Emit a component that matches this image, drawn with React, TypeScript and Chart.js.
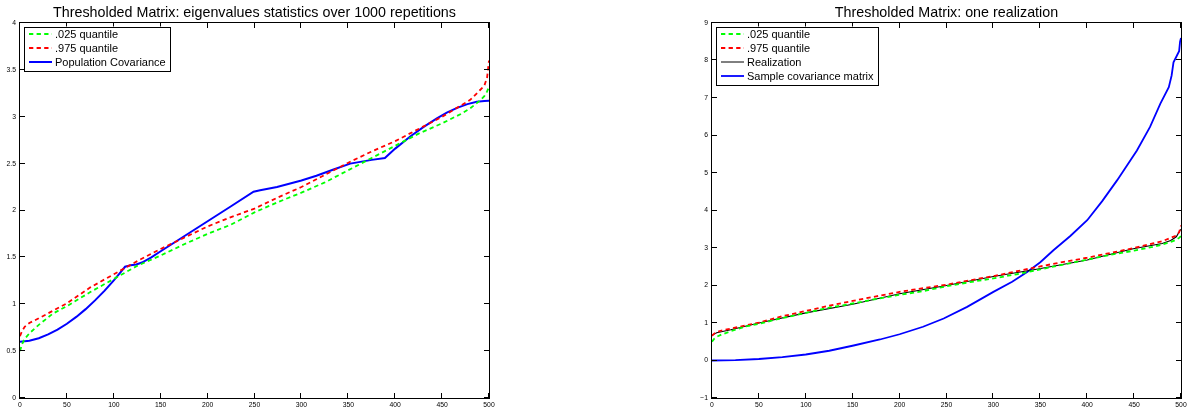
import React, { useEffect, useRef } from 'react';
import { Chart, registerables } from 'chart.js';
Chart.register(...registerables);

// ---------- data ----------
const qX = [0, 2, 5, 10, 20, 35, 50, 75, 100, 125, 150, 175, 200, 225, 250, 275, 300, 325, 350, 375, 400, 425, 450, 470, 480, 490, 495, 498, 500];
const q025 = [0.5, 0.57, 0.63, 0.69, 0.78, 0.9, 0.98, 1.13, 1.27, 1.41, 1.52, 1.64, 1.75, 1.85, 1.98, 2.09, 2.19, 2.3, 2.43, 2.56, 2.69, 2.82, 2.93, 3.03, 3.09, 3.17, 3.22, 3.27, 3.32];
const q975 = [0.66, 0.71, 0.76, 0.8, 0.85, 0.93, 1.01, 1.18, 1.32, 1.46, 1.59, 1.71, 1.83, 1.93, 2.02, 2.14, 2.25, 2.38, 2.51, 2.63, 2.74, 2.87, 3.0, 3.12, 3.18, 3.28, 3.33, 3.42, 3.6];

const popX = [0, 10, 20, 30, 40, 50, 60, 70, 80, 90, 100, 106, 112, 118, 124, 130, 140, 150, 175, 200, 225, 249, 256, 274, 300, 316, 335, 352, 375, 389, 400, 416, 430, 444, 455, 466, 477, 487, 495, 500];
const popY = [0.6, 0.611, 0.638, 0.678, 0.729, 0.792, 0.865, 0.948, 1.041, 1.143, 1.255, 1.326, 1.4, 1.415, 1.425, 1.445, 1.5, 1.565, 1.725, 1.885, 2.045, 2.2, 2.215, 2.25, 2.32, 2.37, 2.44, 2.5, 2.54, 2.56, 2.66, 2.79, 2.89, 2.98, 3.045, 3.095, 3.135, 3.16, 3.168, 3.17];

const realX = [0, 5, 20, 50, 100, 150, 200, 250, 300, 343, 400, 449, 480, 489, 495, 499, 500];
const realY = [0.67, 0.74, 0.82, 1.0, 1.27, 1.5, 1.78, 2.0, 2.24, 2.42, 2.68, 2.98, 3.12, 3.2, 3.3, 3.47, 3.5];

const sampX = [0, 25, 50, 75, 100, 125, 151, 179, 200, 225, 247, 272, 300, 320, 336, 350, 364, 382, 400, 416, 432, 453, 467, 478, 487, 490, 492, 495, 497, 498, 499, 500];
const sampY = [0.0, 0.01, 0.04, 0.09, 0.16, 0.26, 0.4, 0.56, 0.7, 0.9, 1.12, 1.43, 1.83, 2.1, 2.36, 2.62, 2.94, 3.32, 3.74, 4.25, 4.81, 5.6, 6.23, 6.85, 7.29, 7.6, 7.95, 8.1, 8.2, 8.25, 8.5, 8.6];

const xTicks = [0, 50, 100, 150, 200, 250, 300, 350, 400, 450, 500];
const leftYTicks = [0, 0.5, 1, 1.5, 2, 2.5, 3, 3.5, 4];
const rightYTicks = [-1, 0, 1, 2, 3, 4, 5, 6, 7, 8, 9];

const leftTitle = 'Thresholded Matrix: eigenvalues statistics over 1000 repetitions';
const rightTitle = 'Thresholded Matrix: one realization';

const FONT = '"Liberation Sans", Arial, Helvetica, sans-serif';
const GREEN = '#00ff00';
const RED = '#ff0000';
const BLUE = '#0000ff';
const DASH = [4.3, 3.3];

const zip = (xs: number[], ys: number[]) => xs.map((x, i) => ({ x, y: ys[i] }));

const framePlugin = {
  id: 'frame',
  afterDraw(chart: any) {
    const o = chart.options.plugins.frame;
    const { ctx, chartArea: a } = chart;
    const xs = chart.scales.x;
    const ys = chart.scales.y;
    ctx.save();
    ctx.strokeStyle = '#000';
    ctx.lineWidth = 1;
    ctx.setLineDash([]);
    ctx.strokeRect(a.left - 0.5, a.top - 0.5, a.right - a.left + 1, a.bottom - a.top + 1);
    const TL = 5;
    ctx.beginPath();
    for (const t of xs.ticks) {
      const p = Math.round(xs.getPixelForValue(t.value)) - 0.5;
      ctx.moveTo(p, a.bottom);
      ctx.lineTo(p, a.bottom - TL);
      ctx.moveTo(p, a.top);
      ctx.lineTo(p, a.top + TL);
    }
    for (const t of ys.ticks) {
      const p = Math.round(ys.getPixelForValue(t.value)) - 0.5;
      ctx.moveTo(a.left, p);
      ctx.lineTo(a.left + TL, p);
      ctx.moveTo(a.right, p);
      ctx.lineTo(a.right - TL, p);
    }
    ctx.stroke();
    // title
    ctx.fillStyle = '#000';
    ctx.font = `14.3px ${FONT}`;
    ctx.textAlign = 'center';
    ctx.textBaseline = 'alphabetic';
    ctx.fillText(o.title, (a.left + a.right) / 2, 16.5);
    // legend
    ctx.font = `11px ${FONT}`;
    const items = o.legend as any[];
    let maxW = 0;
    for (const it of items) maxW = Math.max(maxW, ctx.measureText(it.label).width);
    const L = a.left + 4;
    const T = a.top + 3.5;
    const W = 31 + maxW + 4;
    const H = 14 * items.length + 1.5;
    ctx.fillStyle = '#fff';
    ctx.fillRect(L, T, W, H);
    ctx.strokeStyle = '#000';
    ctx.lineWidth = 1;
    ctx.strokeRect(Math.round(L) + 0.5, Math.round(T) + 0.5, Math.round(W), Math.round(H));
    items.forEach((it, i) => {
      const cy = T + 7.5 + 14 * i;
      ctx.beginPath();
      ctx.strokeStyle = it.color;
      ctx.lineWidth = it.width;
      ctx.setLineDash(it.dash || []);
      ctx.moveTo(L + 5, cy);
      ctx.lineTo(L + 28, cy);
      ctx.stroke();
      ctx.setLineDash([]);
      ctx.fillStyle = '#000';
      ctx.textAlign = 'left';
      ctx.textBaseline = 'middle';
      ctx.fillText(it.label, L + 31, cy + 0.5);
    });
    ctx.restore();
  },
};

function makeConfig(
  datasets: any[],
  yTicks: number[],
  title: string,
  legend: any[],
  padLeft: number,
  padRight: number,
) {
  return {
    type: 'line',
    data: { datasets },
    options: {
      animation: false,
      responsive: false,
      maintainAspectRatio: false,
      events: [],
      layout: { padding: { left: padLeft, right: padRight, top: 23, bottom: 0 } },
      elements: { point: { radius: 0 }, line: { tension: 0 } },
      plugins: {
        legend: { display: false },
        title: { display: false },
        tooltip: { enabled: false },
        frame: { title, legend },
      },
      scales: {
        x: {
          type: 'linear',
          min: 0,
          max: 500,
          grid: { display: false, drawTicks: false },
          border: { display: false },
          afterBuildTicks: (s: any) => {
            s.ticks = xTicks.map((v) => ({ value: v }));
          },
          ticks: {
            autoSkip: false,
            maxRotation: 0,
            padding: 3,
            color: '#000',
            font: { family: FONT, size: 6.8 },
            callback: (v: any) => String(v),
          },
          afterFit: (s: any) => {
            s.height = 10;
            s.paddingLeft = 0;
            s.paddingRight = 0;
          },
        },
        y: {
          type: 'linear',
          min: yTicks[0],
          max: yTicks[yTicks.length - 1],
          grid: { display: false, drawTicks: false },
          border: { display: false },
          afterBuildTicks: (s: any) => {
            s.ticks = yTicks.map((v) => ({ value: v }));
          },
          ticks: {
            autoSkip: false,
            padding: 4,
            color: '#000',
            font: { family: FONT, size: 6.8 },
            callback: (v: any) => String(v).replace('-', '\u2212'),
          },
          afterFit: (s: any) => {
            s.width = 20;
            s.paddingTop = 0;
            s.paddingBottom = 0;
          },
        },
      },
    },
    plugins: [framePlugin],
  } as any;
}

function ChartCanvas({ config, left, width }: { config: () => any; left: number; width: number }) {
  const ref = useRef<HTMLCanvasElement | null>(null);
  useEffect(() => {
    if (!ref.current) return;
    const chart = new Chart(ref.current, config());
    return () => chart.destroy();
  }, []);
  return (
    <canvas
      ref={ref}
      width={width}
      height={408}
      style={{ position: 'absolute', left, top: 0, width, height: 408, display: 'block' }}
    />
  );
}

export default function App() {
  const leftConfig = () =>
    makeConfig(
      [
        { data: zip(qX, q025), borderColor: GREEN, borderWidth: 1.8, borderDash: DASH, fill: false },
        { data: zip(qX, q975), borderColor: RED, borderWidth: 1.8, borderDash: DASH, fill: false },
        { data: zip(popX, popY), borderColor: BLUE, borderWidth: 2, fill: false },
      ],
      leftYTicks,
      leftTitle,
      [
        { label: '.025 quantile', color: GREEN, width: 1.8, dash: DASH },
        { label: '.975 quantile', color: RED, width: 1.8, dash: DASH },
        { label: 'Population Covariance', color: BLUE, width: 2 },
      ],
      0,
      104,
    );
  const rightConfig = () =>
    makeConfig(
      [
        { data: zip(qX, q025), borderColor: GREEN, borderWidth: 1.8, borderDash: DASH, fill: false },
        { data: zip(qX, q975), borderColor: RED, borderWidth: 1.8, borderDash: DASH, fill: false },
        { data: zip(realX, realY), borderColor: '#000', borderWidth: 1.1, fill: false },
        { data: zip(sampX, sampY), borderColor: BLUE, borderWidth: 1.8, fill: false },
      ],
      rightYTicks,
      rightTitle,
      [
        { label: '.025 quantile', color: GREEN, width: 1.8, dash: DASH },
        { label: '.975 quantile', color: RED, width: 1.8, dash: DASH },
        { label: 'Realization', color: '#000', width: 1 },
        { label: 'Sample covariance matrix', color: BLUE, width: 1.8 },
      ],
      99,
      6,
    );
  return (
    <div style={{ position: 'fixed', left: 0, top: 0, width: 1187, height: 408, background: '#fff' }}>
      <ChartCanvas config={leftConfig} left={0} width={593} />
      <ChartCanvas config={rightConfig} left={593} width={594} />
    </div>
  );
}
